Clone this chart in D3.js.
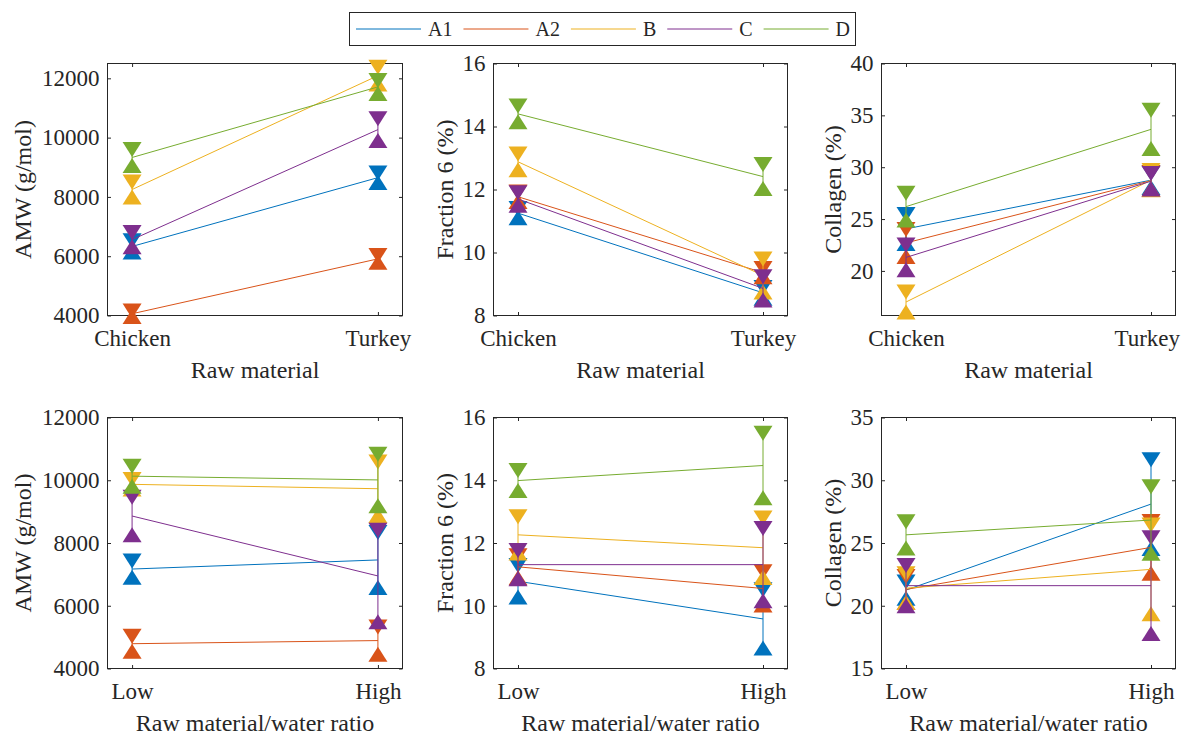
<!DOCTYPE html>
<html><head><meta charset="utf-8">
<script src="https://cdn.jsdelivr.net/npm/d3@7"></script>
<style>
#c, #c text, #c g text, #c .tick text { font-family: 'Liberation Serif', 'Times New Roman', Tinos !important; }
</style>
</head><body style="margin:0">
<svg id="c" width="1182" height="734" style="font-family:'Liberation Serif'"></svg>
<script>
// ---------- data ----------
const seriesNames = ["A1","A2","B","C","D"];
const rawMaterialCats = ["Chicken","Turkey"];
const ratioCats = ["Low","High"];

// Means / errors per series [A1, A2, B, C, D], each [first category, second category]
const amwRawMean  = [[6330,8650],[4060,5910],[8250,12090],[6560,10270],[9330,11710]];
const amwRawErr   = [[190,160],[90,110],[250,280],[240,370],[270,220]];
const fracRawMean = [[11.25,8.72],[11.77,9.36],[12.88,9.27],[11.70,8.86],[14.40,12.41]];
const fracRawErr  = [[0.15,0.17],[0.15,0.13],[0.25,0.52],[0.20,0.37],[0.25,0.38]];
const collRawMean = [[24.05,28.75],[22.7,28.7],[17.0,28.75],[21.3,28.65],[26.2,33.65]];
const collRawErr  = [[1.4,0.7],[1.3,0.8],[0.97,0.93],[1.2,0.75],[1.3,1.85]];

const amwRatioMean  = [[7170,7460],[4790,4890],[9870,9730],[8860,6950],[10130,10010]];
const amwRatioErr   = [[260,875],[240,435],[150,850],[600,1460],[320,820]];
const fracRatioMean = [[10.78,9.58],[11.24,10.55],[12.26,11.85],[11.31,11.31],[13.99,14.47]];
const fracRatioErr  = [[0.5,0.93],[0.35,0.53],[0.58,0.95],[0.45,1.15],[0.32,1.03]];
const collRatioMean = [[21.25,28.1],[21.3,24.65],[21.4,22.9],[21.6,21.6],[25.65,26.83]];
const collRatioErr  = [[0.65,3.53],[1.04,2.07],[1.15,3.53],[1.6,3.82],[1.05,2.65]];

const amwTicks = [4000,6000,8000,10000,12000];
const fracTicks = [8,10,12,14,16];
const collRawTicks = [20,25,30,35,40];
const collRatioTicks = [15,20,25,30,35];

// ---------- styles / layout ----------
const FONT = "'Liberation Serif', 'Times New Roman', Tinos";
const colors = ["#0072BD","#D95319","#EDB120","#7E2F8E","#77AC30"];
const axisColor = "#262626";
const cols = [{l:107.5,r:402.5,yl:77},{l:493.5,r:787.5,yl:41},{l:881.5,r:1175.5,yl:41}];
const rows = [{t:63.5,b:315.5},{t:417.5,b:668.5}];

const panels = [
  {row:0,col:0,mean:amwRawMean,err:amwRawErr,ylim:[4000,12500],ticks:amwTicks,cats:rawMaterialCats,ylab:"AMW (g/mol)",xlab:"Raw material"},
  {row:0,col:1,mean:fracRawMean,err:fracRawErr,ylim:[8,16],ticks:fracTicks,cats:rawMaterialCats,ylab:"Fraction 6 (%)",xlab:"Raw material"},
  {row:0,col:2,mean:collRawMean,err:collRawErr,ylim:[15.7,40],ticks:collRawTicks,cats:rawMaterialCats,ylab:"Collagen (%)",xlab:"Raw material"},
  {row:1,col:0,mean:amwRatioMean,err:amwRatioErr,ylim:[4000,12000],ticks:amwTicks,cats:ratioCats,ylab:"AMW (g/mol)",xlab:"Raw material/water ratio"},
  {row:1,col:1,mean:fracRatioMean,err:fracRatioErr,ylim:[8,16],ticks:fracTicks,cats:ratioCats,ylab:"Fraction 6 (%)",xlab:"Raw material/water ratio"},
  {row:1,col:2,mean:collRatioMean,err:collRatioErr,ylim:[15,35],ticks:collRatioTicks,cats:ratioCats,ylab:"Collagen (%)",xlab:"Raw material/water ratio"}
];

const svg = d3.select("#c");
const FS = 23;
const TW = 19, TH = 15; // triangle marker size

function setFont(sel){ sel.style("font-family",FONT,"important"); }

function styleAxis(g){
  g.attr("font-family",null).attr("font-size",null);
  g.select(".domain").remove();
  g.selectAll(".tick line").attr("stroke",axisColor);
  g.selectAll(".tick text").attr("font-size",FS).attr("fill",axisColor).call(setFont);
}

panels.forEach(p=>{
  const c = cols[p.col], r = rows[p.row];
  const x = d3.scaleLinear().domain([0.9,2.1]).range([c.l,c.r]);
  const y = d3.scaleLinear().domain(p.ylim).range([r.b,r.t]);
  const g = svg.append("g");

  g.append("g").attr("transform",`translate(${c.l},0)`)
    .call(d3.axisLeft(y).tickValues(p.ticks).tickFormat(d3.format("d")).tickSizeInner(-3.5).tickSizeOuter(0).tickPadding(8))
    .call(styleAxis);
  g.append("g").attr("transform",`translate(${c.r},0)`)
    .call(d3.axisRight(y).tickValues(p.ticks).tickSizeInner(-3.5).tickSizeOuter(0).tickFormat(""))
    .call(styleAxis);
  const xb = g.append("g").attr("transform",`translate(0,${r.b})`)
    .call(d3.axisBottom(x).tickValues([1,2]).tickFormat(i=>p.cats[i-1]).tickSizeInner(-3.5).tickSizeOuter(0))
    .call(styleAxis);
  xb.selectAll(".tick text").attr("y",30).attr("dy",null);
  // keep tick labels inside the page on the right
  xb.selectAll(".tick").each(function(){
    const tk = d3.select(this), t = tk.select("text").node();
    const tr = /translate\(([-\d.]+)/.exec(tk.attr("transform"));
    const tx = tr ? +tr[1] : 0, w = t.getComputedTextLength();
    if (tx + w/2 > 1180) d3.select(t).attr("x", 1180 - w/2 - tx);
  });
  g.append("g").attr("transform",`translate(0,${r.t})`)
    .call(d3.axisTop(x).tickValues([1,2]).tickSizeInner(-3.5).tickSizeOuter(0).tickFormat(""))
    .call(styleAxis);

  g.append("rect").attr("x",c.l).attr("y",r.t).attr("width",c.r-c.l).attr("height",r.b-r.t)
    .attr("fill","none").attr("stroke",axisColor).attr("stroke-width",1);

  g.append("text").attr("x",(c.l+c.r)/2).attr("y",r.b+62).attr("text-anchor","middle")
    .attr("fill",axisColor).attr("font-size",24).call(setFont).text(p.xlab);
  g.append("text").attr("transform",`translate(${c.l-c.yl},${(r.t+r.b)/2}) rotate(-90)`)
    .attr("text-anchor","middle").attr("fill",axisColor).attr("font-size",24).call(setFont).text(p.ylab);

  const line = d3.line().x(d=>x(d[0])).y(d=>y(d[1]));
  seriesNames.forEach((s,si)=>{
    const col = colors[si];
    const m = p.mean[si], e = p.err[si];
    const pts = m.map((v,i)=>[i+1,v]);
    const sg = g.append("g");
    sg.append("path").attr("d",line(pts)).attr("fill","none").attr("stroke",col).attr("stroke-width",1);
    m.forEach((v,i)=>{
      const cx = x(i+1);
      const yt = y(v+e[i]), yb = y(v-e[i]);
      sg.append("line").attr("x1",cx).attr("x2",cx).attr("y1",yt).attr("y2",yb)
        .attr("stroke",col).attr("stroke-width",1);
      sg.append("path").attr("d",`M${cx-TW/2},${yt-TH/2}L${cx+TW/2},${yt-TH/2}L${cx},${yt+TH/2}Z`).attr("fill",col);
      sg.append("path").attr("d",`M${cx-TW/2},${yb+TH/2}L${cx+TW/2},${yb+TH/2}L${cx},${yb-TH/2}Z`).attr("fill",col);
    });
  });
});

// legend
const lg = svg.append("g");
lg.append("rect").attr("x",349.5).attr("y",12.5).attr("width",506).attr("height",33)
  .attr("fill","#fff").attr("stroke",axisColor).attr("stroke-width",1);
let lx = 356;
seriesNames.forEach((s,si)=>{
  lg.append("line").attr("x1",lx).attr("x2",lx+65).attr("y1",29).attr("y2",29)
    .attr("stroke",colors[si]).attr("stroke-width",1);
  const t = lg.append("text").attr("x",lx+72).attr("y",36).attr("fill",axisColor)
    .attr("font-size",20).call(setFont).text(s);
  lx += 72 + t.node().getComputedTextLength() + 11;
});
</script>
</body></html>
